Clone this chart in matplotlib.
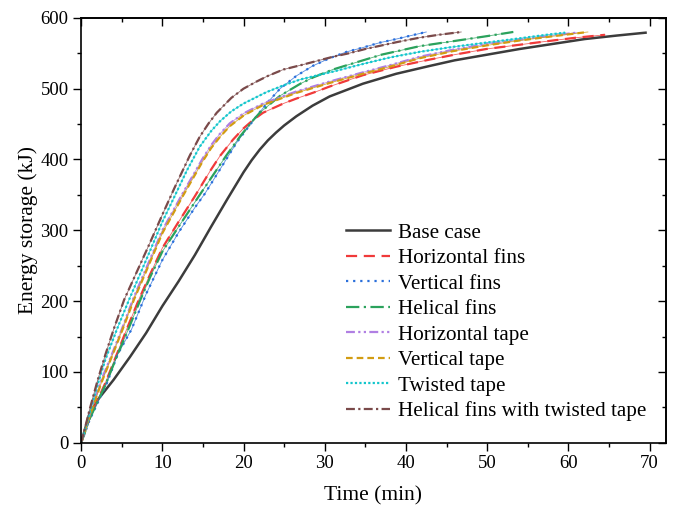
import matplotlib
matplotlib.use("Agg")
import matplotlib.pyplot as plt
from matplotlib.ticker import MultipleLocator

plt.rcParams['font.family'] = ['Liberation Serif', 'DejaVu Serif']

# values (time in min, energy in kJ)
base_t = [0, 1, 2, 4, 6, 8, 10, 12, 14, 16, 18, 20, 21, 22, 23, 24, 25, 26.5, 28.5, 30.6, 34.7, 38.8, 42.9, 46, 50, 54, 58, 62, 66, 69.5]
base_E = [0, 40, 60, 89, 121, 155, 193, 228, 265, 305, 344, 382, 399, 414, 427, 438, 448, 461, 476, 489, 507, 521, 532, 540, 548, 556, 563, 570, 575, 579]

hfin_t = [0, 0.5, 1, 3, 4.5, 5.6, 7.1, 8.5, 10, 12, 14, 15.9, 17.1, 18.7, 20, 21.2, 22.4, 24.9, 26.5, 29, 30.6, 34.7, 38.8, 42.9, 46, 49.9, 54, 58.1, 61, 64.5]
hfin_E = [0, 17, 34, 85, 128, 160, 202, 238, 275, 312, 348, 384, 405, 428, 444, 456, 466, 479, 486, 496, 503, 519, 531, 541, 548, 556, 562, 568, 572, 576]

vfin_t = [0, 0.5, 1, 3.2, 4.5, 6.2, 8, 10, 12, 14, 15.25, 17.1, 19.1, 20, 21.6, 23, 24.5, 26.5, 28.5, 30.6, 32.7, 34.7, 36.8, 38.8, 41, 42.5]
vfin_E = [0, 15, 31, 85, 125, 160, 210, 258, 297, 332, 352, 386, 423, 437, 461, 481, 500, 518, 532, 543, 552, 558, 565, 570, 576, 580]

helf_t = [0, 0.5, 1, 3, 4.5, 5.8, 7.3, 8.5, 10, 12, 14.6, 16.9, 17.9, 19.6, 21, 22, 24.5, 27, 28.6, 31, 32.7, 35, 37, 41.7, 45.8, 49.9, 53.2]
helf_E = [0, 16, 33, 82, 125, 160, 202, 234, 270, 305, 350, 389, 406, 433, 453, 466, 490, 507, 516, 527, 533, 541, 548, 560, 567, 574, 580]

htape_t = [0, 0.5, 1, 2.4, 4, 5, 6.4, 8, 10, 12.5, 15, 16, 17, 18.3, 20, 22.4, 26.5, 30.6, 34.7, 38, 41.7, 45.8, 49.9, 54, 58, 61]
htape_E = [0, 19, 38, 86, 131, 160, 203, 246, 300, 352, 402, 420, 435, 451, 465, 479, 496, 510, 523, 533, 545, 555, 563, 569, 575, 579]

vtape_t = [0, 0.5, 1, 2.5, 4, 5.1, 6.5, 8, 10, 12.5, 15, 16, 17.1, 18.3, 20, 22.4, 26.5, 30.6, 34.7, 38, 41.7, 45.8, 49.9, 54, 58.1, 62.4]
vtape_E = [0, 18, 36, 85, 128, 160, 202, 242, 296, 348, 398, 416, 432, 447, 462, 477, 494, 508, 521, 531, 543, 553, 561, 568, 574, 580]

ttape_t = [0, 0.5, 1, 2.1, 3, 4.4, 5.9, 8, 10, 11.3, 13, 14.6, 16, 17.1, 18.5, 20, 22.8, 25, 27, 31, 35.1, 38, 41.7, 45.8, 49.9, 54, 57.3, 59.6]
ttape_E = [0, 20, 40, 85, 118, 160, 202, 258, 312, 343, 384, 418, 440, 454, 468, 479, 495, 505, 513, 524, 536, 544, 552, 559, 565, 571, 576, 579]

combo_t = [0, 0.5, 1, 2, 3, 4, 5.3, 7, 8.5, 10, 11.5, 13.4, 14.6, 15.7, 16.7, 18.5, 20, 21.6, 23, 24.9, 27, 29, 31, 33, 35, 37, 39, 41.7, 44, 46.8]
combo_E = [0, 22, 45, 87, 125, 160, 202, 245, 283, 322, 360, 406, 432, 451, 466, 487, 500, 510, 518, 527, 533, 539, 545, 550, 556, 561, 566, 572, 576, 580]

series = [
    ("Base case", base_t, base_E, '#3c3c3c', '-'),
    ("Horizontal fins", hfin_t, hfin_E, '#f03a3a', (0, (5, 3))),
    ("Vertical fins", vfin_t, vfin_E, '#2a6fdb', (0, (1, 2.2))),
    ("Helical fins", helf_t, helf_E, '#2ba25c', (0, (6, 2, 1, 2))),
    ("Horizontal tape", htape_t, htape_E, '#b07fe3', (0, (4, 1.5, 1, 1.5, 1, 1.5))),
    ("Vertical tape", vtape_t, vtape_E, '#d29c12', (0, (3, 1.8))),
    ("Twisted tape", ttape_t, ttape_E, '#13c6cc', (0, (1, 1))),
    ("Helical fins with twisted tape", combo_t, combo_E, '#7a4a4a', (0, (4, 1.5, 1, 1.5))),
]

fig = plt.figure(figsize=(6.76, 5.09), dpi=100)
ax = fig.add_axes([0.12, 0.13, 0.865, 0.835])

handles = []
for name, t, e, c, ls in series:
    if ls != '-':
        # thin solid trace under the dashes, as in the original export
        ax.plot(t, e, color=c, lw=0.6, alpha=0.8)
    h, = ax.plot(t, e, color=c, ls=ls, lw=1.6 if ls != '-' else 1.8, label=name)
    handles.append(h)

ax.set_xlim(0, 72)
ax.set_ylim(0, 600)
ax.xaxis.set_major_locator(MultipleLocator(10))
ax.xaxis.set_minor_locator(MultipleLocator(5))
ax.yaxis.set_major_locator(MultipleLocator(100))
ax.yaxis.set_minor_locator(MultipleLocator(50))
ax.tick_params(which='major', direction='out', length=5.5, width=1, labelsize=13.5)
ax.tick_params(which='minor', direction='out', length=3, width=1)

top = ax.secondary_xaxis('top')
top.xaxis.set_major_locator(MultipleLocator(10))
top.xaxis.set_minor_locator(MultipleLocator(5))
top.tick_params(which='major', direction='in', length=5.5, width=1, labeltop=False)
top.tick_params(which='minor', direction='in', length=3, width=1)
right = ax.secondary_yaxis('right')
right.yaxis.set_major_locator(MultipleLocator(100))
right.yaxis.set_minor_locator(MultipleLocator(50))
right.tick_params(which='major', direction='in', length=5.5, width=1, labelright=False)
right.tick_params(which='minor', direction='in', length=3, width=1)

for s in ax.spines.values():
    s.set_linewidth(1.2)
top.spines['top'].set_linewidth(1.2)
right.spines['right'].set_linewidth(1.2)

ax.set_xlabel('Time (min)', fontsize=15.5, labelpad=10)
ax.set_ylabel('Energy storage (kJ)', fontsize=15.5, labelpad=1.5)

ax.legend(handles=handles, loc='upper left', bbox_to_anchor=(0.42, 0.562), frameon=False,
          fontsize=15.2, handlelength=2.1, handletextpad=0.38, labelspacing=0.27)

fig.savefig('out.png', dpi=100)
